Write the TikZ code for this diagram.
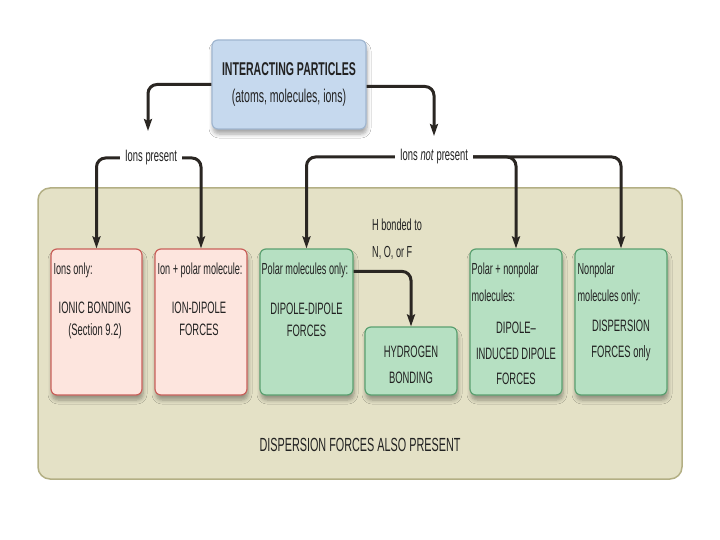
\documentclass[tikz,border=0pt]{standalone}
\usepackage{fontspec}
\setmainfont{Liberation Sans}[FakeStretch=0.57]
\usetikzlibrary{arrows.meta,shadows.blur}
\definecolor{panelfill}{HTML}{E4E1C6}
\definecolor{panelline}{HTML}{B3AF84}
\definecolor{pinkfill}{HTML}{FDE5DE}
\definecolor{pinkline}{HTML}{C9605A}
\definecolor{greenfill}{HTML}{B6E0C2}
\definecolor{greenline}{HTML}{5AA070}
\definecolor{bluefill}{HTML}{C6D9EE}
\definecolor{blueline}{HTML}{A0B6D0}
\definecolor{arrowc}{HTML}{2A2622}
\definecolor{txt}{HTML}{222222}
\begin{document}
\begin{tikzpicture}[x=1pt,y=-1pt,
  shad/.style={blur shadow={shadow xshift=1pt, shadow yshift=-5pt, shadow opacity=35, shadow blur radius=4pt, shadow blur steps=6}},
  box/.style={draw, rounded corners=6pt, line width=1.2pt, minimum width=92pt, minimum height=146pt, inner sep=0pt, shad},
  pinkbox/.style={box, fill=pinkfill, draw=pinkline},
  greenbox/.style={box, fill=greenfill, draw=greenline},
  lbl/.style={anchor=north west, inner sep=0pt, align=left, text=txt, font=\fontsize{16}{27}\selectfont},
  maintxt/.style={anchor=north, inner sep=0pt, align=center, text=txt, font=\fontsize{16.5}{21.5}\selectfont},
  maintxtw/.style={anchor=north, inner sep=0pt, align=center, text=txt, font=\fontsize{16.5}{25.5}\selectfont},
  tag/.style={inner xsep=5pt, inner ysep=2pt, text=txt, font=\fontsize{16.5}{20}\selectfont},
  conn/.style={draw=arrowc, line width=3pt, rounded corners=9pt, -{Stealth[length=12pt,width=8pt,inset=2pt]}}
]
\useasboundingbox (0,0) rectangle (720,540);
\fill[white] (0,0) rectangle (720,540);

% background panel
\node[draw=panelline, fill=panelfill, line width=1.5pt, rounded corners=12pt,
      minimum width=644pt, minimum height=291pt, inner sep=0pt] (panel) at (360,333.5) {};

% top box
\node[draw=blueline, fill=bluefill, line width=1.2pt, rounded corners=6pt, shad,
      minimum width=154pt, minimum height=89pt, inner sep=0pt, align=center, text=txt,
      font=\fontsize{18.5}{27}\selectfont] (top) at (289,84.5)
      {\textbf{INTERACTING PARTICLES}\\(atoms, molecules, ions)};

% boxes
\node[pinkbox, minimum width=91pt] (b1) at (96.5,322) {};
\node[pinkbox] (b2) at (201,322) {};
\node[greenbox, minimum width=93pt] (b3) at (306.5,322) {};
\node[greenbox, minimum height=68pt] (bH) at (411,361) {};
\node[greenbox] (b5) at (516,322) {};
\node[greenbox] (b6) at (621,322) {};

% box texts
\node[lbl] (l1) at ([shift={(3,14)}]b1.north west) {Ions only:};
\node[lbl] (l2) at ([shift={(3,14)}]b2.north west) {Ion + polar molecule:};
\node[lbl] (l3) at ([shift={(2,14)}]b3.north west) {Polar molecules only:};
\node[lbl] (l5) at ([shift={(2,14)}]b5.north west) {Polar + nonpolar\\molecules:};
\node[lbl] (l6) at ([shift={(3,14)}]b6.north west) {Nonpolar\\molecules only:};

\node[maintxt] (m1) at (95,302) {IONIC BONDING\\(Section 9.2)};
\node[maintxt] (m2) at (199,302) {ION-DIPOLE\\FORCES};
\node[maintxt] (m3) at (306.5,303) {DIPOLE-DIPOLE\\FORCES};
\node[maintxtw] (mH) at (411,346) {HYDROGEN\\BONDING};
\node[maintxtw] (m5) at (516,322) {DIPOLE–\\INDUCED DIPOLE\\FORCES};
\node[maintxtw] (m6) at (621,320) {DISPERSION\\FORCES only};

\node[lbl] (hb) at (372,219) {H bonded to\\N, O, or F};

\node[inner sep=0pt, text=txt, font=\fontsize{19}{22}\selectfont] (disp) at (360,444.5)
      {DISPERSION FORCES ALSO PRESENT};

% tags
\node[tag] (ip) at (151,158) {Ions present};
\node[tag] (inp) at (434,157) {Ions \textit{not} present};

% connectors
\coordinate (tipL) at (148,131);
\coordinate (tipR) at (434,136);
\draw[conn] (top.west) -| (tipL);
\draw[conn] ([yshift=-2pt]top.east) -| (tipR);

\draw[conn] (ip.west) -| (b1.north);
\draw[conn] (ip.east) -| (b2.north);
\draw[conn] (inp.west) -| (b3.north);
\draw[conn] (inp.east) -| (b5.north);
\draw[conn] (inp.east) -| (b6.north);
\draw[conn] ([yshift=-23pt]b3.north east) -| (bH.north);
\end{tikzpicture}
\end{document}
